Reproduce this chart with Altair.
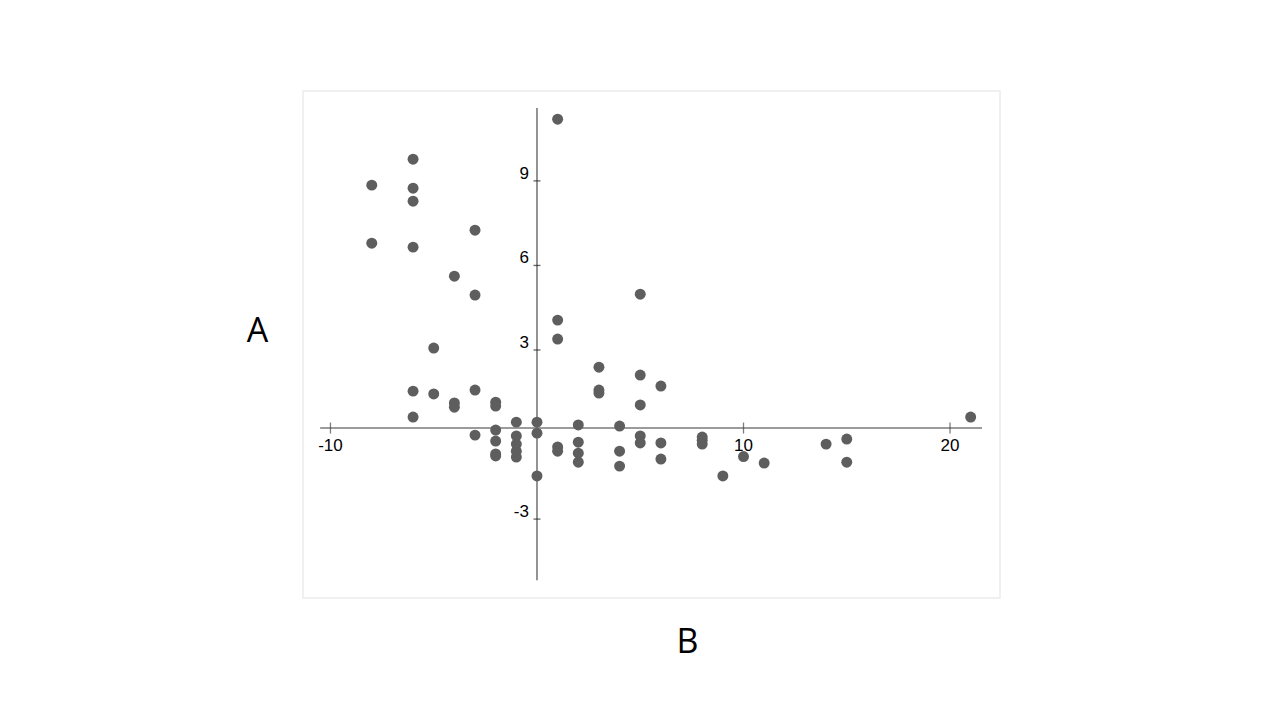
import altair as alt
import pandas as pd

# ---- data ----
xs = [-8, -8,
      -6, -6, -6, -6, -6, -6,
      -5, -5,
      -4, -4, -4,
      -3, -3, -3, -3,
      -2, -2, -2, -2, -2, -2,
      -1, -1, -1, -1, -1,
      0, 0, 0,
      1, 1, 1, 1, 1,
      2, 2, 2, 2,
      3, 3, 3,
      4, 4, 4,
      5, 5, 5, 5, 5,
      6, 6, 6,
      8, 8, 8,
      9,
      10,
      11,
      14,
      15, 15,
      21]
ys = [8.85, 6.79,
      9.77, 8.74, 8.28, 6.65, 1.54, 0.62,
      3.07, 1.44,
      5.62, 1.12, 0.97,
      7.25, 4.95, 1.58, -0.02,
      1.15, 1.01, 0.16, -0.23, -0.69, -0.76,
      0.44, -0.05, -0.34, -0.59, -0.80,
      0.44, 0.05, -1.47,
      11.19, 4.06, 3.39, -0.44, -0.59,
      0.34, -0.27, -0.66, -0.98,
      2.39, 1.58, 1.47,
      0.30, -0.59, -1.12,
      4.98, 2.11, 1.05, -0.05, -0.30,
      1.72, -0.30, -0.87,
      -0.09, -0.20, -0.34,
      -1.47,
      -0.78,
      -1.01,
      -0.34,
      -0.16, -0.98,
      0.62]

x_ticks = [-10, 10, 20]
x_tick_labels = ["-10", "10", "20"]
y_ticks = [-3, 3, 6, 9]
y_tick_labels = ["-3", "3", "6", "9"]

x_axis_at_y = 0.23          # horizontal axis line crosses slightly above y = 0
x_axis_extent = [-10.5, 21.55]
y_axis_extent = [-5.17, 11.59]
x_domain = [-11.33, 22.42]
y_domain = [-5.80, 12.19]

pts = pd.DataFrame({"x": xs, "y": ys})
hline = pd.DataFrame({"x": [x_axis_extent[0]], "x2": [x_axis_extent[1]], "y": [x_axis_at_y]})
vline = pd.DataFrame({"x": [0], "y": [y_axis_extent[0]], "y2": [y_axis_extent[1]]})
xt = pd.DataFrame({"x": x_ticks, "y": [x_axis_at_y] * len(x_ticks), "lab": x_tick_labels})
yt = pd.DataFrame({"x": [0] * len(y_ticks), "y": y_ticks, "lab": y_tick_labels})

FONT = "Liberation Sans"
TITLE_FONT = "Open Sans"

xscale = alt.Scale(domain=x_domain, nice=False, zero=False)
yscale = alt.Scale(domain=y_domain, nice=False, zero=False)
xaxis = alt.Axis(title="B", labels=False, ticks=False, domain=False, grid=False,
                 titleFont=TITLE_FONT, titleFontSize=34, titleFontWeight="normal",
                 titleColor="#000000", titleX=384, titleY=44,
                 titleAlign="center", titleBaseline="middle")
yaxis = alt.Axis(title="A", labels=False, ticks=False, domain=False, grid=False,
                 titleFont=TITLE_FONT, titleFontSize=34, titleFontWeight="normal",
                 titleColor="#000000", titleAngle=0, titleX=-46, titleY=240,
                 titleAlign="center", titleBaseline="middle")

X = alt.X("x:Q", scale=xscale, axis=xaxis)
Y = alt.Y("y:Q", scale=yscale, axis=yaxis)

axis_color = "#7a7a7a"

h_rule = alt.Chart(hline).mark_rule(color=axis_color, strokeWidth=1.6).encode(
    x=X, x2="x2:Q", y=Y)
v_rule = alt.Chart(vline).mark_rule(color=axis_color, strokeWidth=1.6).encode(
    x=X, y=Y, y2="y2:Q")

x_tick_marks = alt.Chart(xt).mark_tick(orient="vertical", size=11, thickness=1.3,
                                       color="#444444").encode(x=X, y=Y)
y_tick_marks = alt.Chart(yt).mark_tick(orient="horizontal", size=7, thickness=1.3,
                                       color="#222222").encode(x=X, y=Y)

x_labels = alt.Chart(xt).mark_text(font=FONT, fontSize=17, color="#000000",
                                   align="center", baseline="middle", dy=18).encode(
    x=X, y=Y, text="lab:N")
y_labels = alt.Chart(yt).mark_text(font=FONT, fontSize=17, color="#000000",
                                   align="right", baseline="middle", dx=-8, dy=-7).encode(
    x=X, y=Y, text="lab:N")

points = alt.Chart(pts).mark_circle(size=120, color="#5e5e5e", opacity=1).encode(x=X, y=Y)

chart = alt.layer(h_rule, v_rule, x_tick_marks, y_tick_marks, x_labels, y_labels, points).properties(
    width=697, height=507,
    autosize=alt.AutoSizeParams(type="none"),
    padding={"left": 295, "top": 83, "right": 20, "bottom": 80},
    background="#ffffff",
).configure_view(stroke="#ebebeb", strokeWidth=1.5)

chart.save("out.html", embed_options={"renderer": "svg", "actions": False})
